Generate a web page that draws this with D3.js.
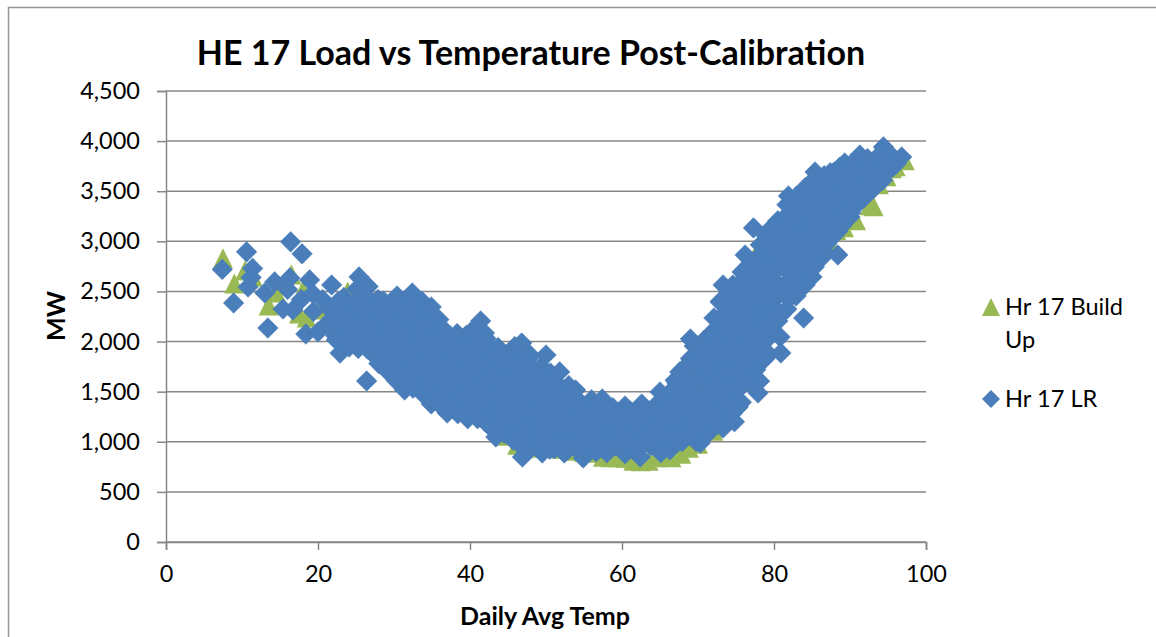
<!DOCTYPE html>
<html>
<head>
<meta charset="utf-8">
<script src="https://cdn.jsdelivr.net/npm/d3@7/dist/d3.min.js"></script>
<style>
html,body{margin:0;padding:0;background:#fff;overflow:hidden}
text{font-family:Lato,"Open Sans",sans-serif;fill:#000}
</style>
</head>
<body>
<svg id="chart" width="1156" height="637"></svg>
<script>
const chartTitle = "HE 17 Load vs Temperature Post-Calibration";
const xAxisTitle = "Daily Avg Temp";
const yAxisTitle = "MW";
const xTicks = [0, 20, 40, 60, 80, 100];
const yTicks = [0, 500, 1000, 1500, 2000, 2500, 3000, 3500, 4000, 4500];
const legendBuildUp = ["Hr 17 Build", "Up"];
const legendLR = ["Hr 17 LR"];

const buildUpPoints = [
[7.5,2820],[9,2570],[10.4,2700],[11.4,2640],[13.5,2350],[14.5,2480],[16.5,2660],[18,2500],[17.5,2270],[18.5,2230],[20.3,2310],[21.5,2260],[23.9,2490],[22.7,2200],[25,2100],[27,2250],
[29,1950],[31,1850],[33,1750],[35,1700],[37,1550],[39,1450],[41,1350],[43,1200],[45,1050],[46.2,960],[47.5,930],[48.6,950],[50.5,1560],[50,960],[52,920],[53.5,900],[55,890],[56.5,880],
[57.5,840],[58.5,835],[59.5,835],[60.5,830],[61.5,800],[62.5,795],[63.5,800],[64.5,835],[65.5,840],[66.5,835],[67.8,870],[68.8,930],[70,970],[72,1100],[74,1300],[76,1600],[78,2000],[78.2,2950],
[80,2300],[82,2600],[84,2800],[85.5,2880],[86.5,3030],[87.2,3000],[88.2,3100],[89.2,3130],[90.8,3200],[92.6,3350],[93.1,3340],[93.8,3560],[94.8,3640],[95.5,3720],[96,3740],[97.2,3800]
];

const lrPoints = [
[7.4,2720],[8.9,2385],[10.6,2895],[11.4,2730],[10.8,2545],[11.2,2640],[13.4,2135],[13,2485],[14.3,2595],[15.4,2325],[16.4,2995],[16.3,2635],[16,2520],[16.7,2315],[17.9,2875],[18.9,2615],[17.8,2420],[19.3,2480],[18.4,2075],[19.4,2300],
[20,2095],[20.6,2420],[21.2,2180],[21.8,2565],[21.6,2320],[22.3,2060],[22.9,1885],[23.1,2240],[23.4,2440],[24.1,1990],[24.3,2120],[24.8,2330],[25.4,2645],[25.3,1930],[25.6,2210],[26,2480],[26.4,1607],[26.5,2050],[26.7,2350],[26.6,2550],
[27.2,1880],[27.5,2160],[27.9,2420],[28,1780],[28.4,2010],[28.7,2280],[29.2,1700],[29.3,1920],[29.5,2130],[29.8,2370],[30.4,2455],[30.3,1610],[30.5,1800],[30.8,2030],[31,2240],[31.4,1517],[31.6,1700],[31.9,1930],[32,2130],[32.4,2485],[32.3,2320],
[33,1570],[33,1800],[33.3,2030],[33.5,2220],[33.7,2400],[34.1,1650],[34.3,1900],[34.5,2110],[34.9,2345],[34.9,1377],[35,1510],[35.3,1760],[35.6,2000],[35.9,2220],[36.2,1420],[36.4,1620],[36.6,1850],[36.9,2080],[37,1287],[37.4,1500],
[37.6,1720],[37.9,1950],[38.3,2080],[38.4,1280],[38.6,1400],[38.9,1600],[39.1,1830],[39.5,2060],[39.7,1230],[40,1480],[40.2,1700],[40.4,1920],[40.7,2140],[41,1230],[41.2,1400],[41.4,2205],[41.5,1600],[41.8,1820],[42.1,2030],[42.4,1170],
[42.6,1320],[42.9,1520],[43.2,1730],[43.4,1048],[43.7,1940],[43.9,1220],[44.2,1420],[44.5,1630],[44.7,1840],[45,1100],[45.3,1310],[45.6,1530],[45.9,1950],[46.2,1000],[46.4,1200],[46.6,1740],[46.8,1985],[46.9,848],[47.1,1430],[47.4,1090],
[47.7,1620],[47.9,1850],[48.2,960],[48.5,1280],[48.8,1500],[49,1720],[49.5,888],[49.6,1130],[49.9,1370],[50,1866],[50.3,1000],[50.6,1590],[50.9,1240],[51.1,930],[51.4,1460],[51.8,1697],[51.9,1100],[52.4,888],[52.6,1330],[53,1560],
[53.3,990],[53.6,1200],[53.9,1517],[54.2,920],[54.4,1360],[54.9,838],[55,1080],[55.3,1260],[55.7,960],[56,1420],[56.2,1140],[56.6,900],[57,1300],[57.4,1427],[57.5,1030],[58,890],[58.3,1170],[58.8,1340],[59.1,960],[59.5,1090],
[60,1240],[60.4,1357],[60.4,880],[60.9,1010],[61.4,1150],[61.8,1290],[62,920],[62.4,848],[62.6,1377],[62.9,1060],[63.3,1210],[63.8,960],[64.2,1320],[64.5,1100],[65,1497],[65.1,890],[65.4,1240],[65.9,1010],[66.3,918],[66.4,1400],
[66.7,1150],[67.2,1590],[67.6,1697],[67.5,1290],[67.9,1000],[68.2,1460],[68.5,1120],[69,2026],[69,1830],[69.3,1600],[69.4,1300],[69.8,1000],[70.3,988],[70.3,1180],[70.5,1450],[70.7,1720],[70.9,1950],[71.4,1090],[71.5,1320],[71.7,1600],
[71.9,1850],[72.2,2100],[72.5,1220],[72.7,1480],[72.9,1730],[72.9,2395],[73.1,1980],[73.3,1138],[73.3,2565],[73.4,2220],[73.8,1350],[74,1620],[74.2,1860],[74.4,2100],[74.5,2350],[74.8,1200],[75,1500],[75.2,1760],[75.3,1347],[75.5,2000],
[75.7,2240],[75.9,2480],[76.2,2864],[76.1,2680],[76.3,1600],[76.6,1880],[76.9,2130],[77.1,2380],[77.3,3134],[77.4,2610],[77.6,1720],[77.9,1487],[78,2000],[78.2,2260],[78.4,2510],[78.6,2780],[78.8,1830],[79,3000],[79.3,2120],[79.5,2400],
[79.8,2680],[80,2900],[80.2,3150],[80.8,2045],[80.9,1886],[80.9,2270],[81.1,2550],[81.4,2800],[81.6,3060],[81.9,3453],[82,3250],[82.2,2450],[82.5,2680],[82.7,2950],[83,3180],[83.2,3380],[83.9,2235],[83.7,2600],[83.9,2830],[84.2,3090],
[84.4,3300],[84.6,3530],[85,2645],[85.2,2950],[85.4,3692],[85.5,3200],[85.7,3430],[86.2,2830],[86.4,3100],[86.6,3330],[86.8,3590],[87,2984],[87.4,3230],[87.6,3470],[87.9,3690],[88.4,2864],[88.4,3100],[88.6,3360],[88.9,3580],[89.3,3782],
[89.4,3220],[89.7,3460],[90,3243],[90.4,3670],[90.6,3360],[91,3540],[91.3,3862],[91.6,3700],[91.9,3440],[92.3,3600],[92.8,3780],[93,3520],[93.6,3690],[94.3,3610],[94.4,3942],[94.7,3800],[95.1,3880],[95.6,3740],[96.8,3842],

[22.4,2015],[22.7,2135],[22.3,2280],[22.6,2395],[24.1,1945],[23.8,2085],[24.2,2205],[23.9,2365],[25.1,2015],[25.4,2130],[25,2275],[25.3,2410],[25.1,2525],
[26.5,1925],[26.2,2070],[26.6,2185],[26.3,2325],[26.5,2440],[27.7,1845],[27.4,1990],[27.8,2105],[27.5,2245],[27.7,2365],[28.9,1775],[28.6,1890],[29,2040],[28.7,2155],[28.9,2295],[28.6,2405],
[30.1,1695],[29.8,1840],[30.2,1955],[29.9,2095],[30.1,2215],[29.8,2355],[31.3,1605],[31,1725],[31.4,1865],[31.1,1985],[31.3,2125],[31,2245],[31.4,2385],[32.5,1535],[32.2,1675],[32.6,1795],[32.3,1935],[32.5,2055],[32.2,2195],[32.6,2315],
[33.7,1485],[33.4,1605],[33.8,1745],[33.5,1865],[33.7,2005],[33.4,2125],[33.8,2265],[33.5,2335],[34.9,1435],[34.6,1555],[35,1695],[34.7,1815],[34.9,1955],[34.6,2075],[35,2215],
[36.1,1365],[35.8,1505],[36.2,1625],[35.9,1765],[36.1,1885],[35.8,2025],[36.2,2145],[37.3,1345],[37,1465],[37.4,1605],[37.1,1725],[37.3,1865],[37,1985],[37.4,2055],
[38.5,1295],[38.2,1435],[38.6,1555],[38.3,1695],[38.5,1815],[38.2,1955],[38.6,2035],[39.7,1265],[39.4,1385],[39.8,1525],[39.5,1645],[39.7,1785],[39.4,1905],[39.8,2045],
[40.9,1245],[40.6,1385],[41,1505],[40.7,1645],[40.9,1765],[40.6,1905],[41,2025],[40.7,2125],[42.1,1195],[41.8,1315],[42.2,1455],[41.9,1575],[42.1,1715],[41.8,1835],[42.2,1975],[41.9,2085],
[43.3,1115],[43,1255],[43.4,1375],[43.1,1515],[43.3,1635],[43,1775],[43.4,1895],[44.5,1085],[44.2,1205],[44.6,1345],[44.3,1465],[44.5,1605],[44.2,1725],[44.6,1865],
[45.7,1015],[45.4,1155],[45.8,1275],[45.5,1415],[45.7,1535],[45.4,1675],[45.8,1795],[46.9,985],[46.6,1105],[47,1245],[46.7,1365],[46.9,1505],[46.6,1625],[47,1765],[46.7,1885],
[48.1,945],[47.8,1085],[48.2,1205],[47.9,1345],[48.1,1465],[47.8,1605],[48.2,1725],[47.9,1865],[49.3,965],[49,1085],[49.4,1225],[49.1,1345],[49.3,1485],[49,1605],[49.4,1745],
[50.5,925],[50.2,1065],[50.6,1185],[50.3,1325],[50.5,1445],[50.2,1585],[50.6,1685],[51.7,955],[51.4,1075],[51.8,1215],[51.5,1335],[51.7,1475],[51.4,1585],
[52.9,925],[52.6,1065],[53,1185],[52.7,1325],[52.9,1445],[52.6,1525],[54.1,955],[53.8,1075],[54.2,1215],[53.9,1335],[54.1,1425],[55.3,925],[55,1065],[55.4,1185],[55.1,1325],[55.3,1365],
[56.5,965],[56.2,1085],[56.6,1225],[56.3,1345],[57.7,945],[57.4,1085],[57.8,1205],[57.5,1345],[58.9,975],[58.6,1095],[59,1235],[58.7,1295],[60.1,955],[59.8,1095],[60.2,1215],[59.9,1305],
[61.3,965],[61,1085],[61.4,1225],[61.1,1305],[62.5,945],[62.2,1085],[62.6,1205],[62.3,1335],[63.7,995],[63.4,1115],[63.8,1255],[63.5,1295],[64.9,1005],[64.6,1125],[65,1265],[64.7,1385],
[66.1,995],[65.8,1135],[66.2,1255],[65.9,1395],[66.1,1475],[67.3,1045],[67,1165],[67.4,1305],[67.1,1425],[67.3,1565],[67,1615],[68.5,1075],[68.2,1215],[68.6,1335],[68.3,1475],[68.5,1595],[68.2,1735],
[69.7,1095],[69.4,1215],[69.8,1355],[69.5,1475],[69.7,1615],[69.4,1735],[69.8,1875],[69.5,1955],[70.9,1105],[70.6,1225],[71,1365],[70.7,1485],[70.9,1625],[70.6,1745],[71,1885],[70.7,2005],
[72.1,1195],[71.8,1315],[72.2,1455],[71.9,1575],[72.1,1715],[71.8,1835],[72.2,1975],[71.9,2095],[72.1,2235],[73.3,1225],[73,1365],[73.4,1485],[73.1,1625],[73.3,1745],[73,1885],[73.4,2005],[73.1,2145],[73.3,2265],[73,2405],
[74.5,1285],[74.2,1405],[74.6,1545],[74.3,1665],[74.5,1805],[74.2,1925],[74.6,2065],[74.3,2185],[74.5,2325],[74.2,2445],[74.6,2565],[75.7,1395],[75.4,1535],[75.8,1655],[75.5,1795],[75.7,1915],[75.4,2055],[75.8,2175],[75.5,2315],[75.7,2435],[75.4,2575],[75.8,2695],
[76.9,1585],[76.6,1705],[77,1845],[76.7,1965],[76.9,2105],[76.6,2225],[77,2365],[76.7,2485],[76.9,2625],[76.6,2745],[78.1,1605],[77.8,1795],[78.2,1935],[77.9,2055],[78.1,2195],[77.8,2315],[78.2,2455],[77.9,2575],[78.1,2715],[77.8,2835],[78.2,2965],
[79.3,1875],[79,2015],[79.4,2135],[79.1,2275],[79.3,2395],[79,2535],[79.4,2655],[79.1,2795],[79.3,2915],[79,3055],[79.4,3115],[80.5,2205],[80.2,2325],[80.6,2465],[80.3,2585],[80.5,2725],[80.2,2845],[80.6,2985],[80.3,3105],[80.5,3205],
[81.7,2325],[81.4,2465],[81.8,2585],[81.5,2725],[81.7,2845],[81.4,2985],[81.8,3105],[81.5,3245],[81.7,3365],[82.9,2455],[82.6,2575],[83,2715],[82.7,2835],[82.9,2975],[82.6,3095],[83,3235],[82.7,3355],[82.9,3445],
[84.1,2565],[83.8,2685],[84.2,2825],[83.9,2945],[84.1,3085],[83.8,3205],[84.2,3345],[83.9,3465],[84.1,3535],[85.3,2745],[85,2885],[85.4,3005],[85.1,3145],[85.3,3265],[85,3405],[85.4,3525],[85.1,3605],
[86.5,2905],[86.2,3025],[86.6,3165],[86.3,3285],[86.5,3425],[86.2,3545],[86.6,3655],[87.7,3045],[87.4,3185],[87.8,3305],[87.5,3445],[87.7,3565],[87.4,3685],[88.9,3155],[88.6,3275],[89,3415],[88.7,3535],[88.9,3675],[88.6,3735],
[90.1,3285],[89.8,3405],[90.2,3545],[89.9,3665],[90.1,3765],[91.3,3395],[91,3535],[91.4,3655],[91.1,3795],[92.5,3485],[92.2,3605],[92.6,3745],[92.3,3825],[93.7,3595],[93.4,3735],[93.8,3855],[94.9,3705],[94.6,3825],[95,3885],[96.1,3775]
];

const width = 1156, height = 637;
const plot = { left: 166, right: 926, top: 91, bottom: 542 };
const gray = "#868686";

const x = d3.scaleLinear().domain([0, 100]).range([plot.left, plot.right]);
const y = d3.scaleLinear().domain([0, 4500]).range([plot.bottom, plot.top]);
const svg = d3.select("#chart");

svg.append("path")
  .attr("d", `M8.5,${height} V7.5 H${width}`)
  .attr("fill", "none").attr("stroke", "#969696").attr("stroke-width", 1.5);

const yAxis = d3.axisLeft(y).tickValues(yTicks).tickFormat(d3.format(",")).tickSize(9).tickPadding(17);
const xAxis = d3.axisBottom(x).tickValues(xTicks).tickSize(8).tickPadding(15);

const gy = svg.append("g").attr("transform", `translate(${plot.left},0)`).call(yAxis);
const gx = svg.append("g").attr("transform", `translate(0,${plot.bottom})`).call(xAxis);
for (const g of [gx, gy]) {
  g.selectAll("path").attr("stroke", gray).attr("stroke-width", 1.5);
  g.selectAll("line").attr("stroke", gray).attr("stroke-width", 1.5);
  g.selectAll("text").style("font-size", "23.5px").style("fill", "#000");
  g.attr("font-family", null).attr("font-size", null);
}
svg.append("g").selectAll("line").data(yTicks).join("line")
  .attr("x1", plot.left).attr("x2", plot.right)
  .attr("y1", d => y(d)).attr("y2", d => y(d))
  .attr("stroke", gray).attr("stroke-width", 1.5);

const triangle = (cx, cy, w) => `M${cx},${cy - w * 0.55}L${cx + w / 2},${cy + w * 0.45}L${cx - w / 2},${cy + w * 0.45}Z`;
const diamond = (cx, cy, r) => `M${cx},${cy - r}L${cx + r},${cy}L${cx},${cy + r}L${cx - r},${cy}Z`;

svg.append("g").selectAll("path").data(buildUpPoints).join("path")
  .attr("d", d => triangle(x(d[0]), y(d[1]), 20))
  .attr("fill", "#98b954");

svg.append("g").selectAll("path").data(lrPoints).join("path")
  .attr("d", d => diamond(x(d[0]), y(d[1]), 10.3))
  .attr("fill", "#4a7ebb").attr("stroke", "#4779b5").attr("stroke-width", 0.5);

svg.append("text").attr("x", 531).attr("y", 65).attr("text-anchor", "middle")
  .style("font-size", "34px").style("font-weight", 700).text(chartTitle);
svg.append("text").attr("x", 545).attr("y", 625).attr("text-anchor", "middle")
  .style("font-size", "25px").style("font-weight", 700).text(xAxisTitle);
svg.append("text").attr("transform", "translate(65,316) rotate(-90)").attr("text-anchor", "middle")
  .style("font-size", "25px").style("font-weight", 700).text(yAxisTitle);

svg.append("path").attr("d", triangle(991, 308, 18)).attr("fill", "#98b954");
svg.append("path").attr("d", diamond(991, 399, 9)).attr("fill", "#4a7ebb");
legendBuildUp.forEach((t, i) => svg.append("text").attr("x", 1005).attr("y", 315 + i * 33).style("font-size", "23.6px").text(t));
legendLR.forEach(t => svg.append("text").attr("x", 1005).attr("y", 407).style("font-size", "23.6px").text(t));
</script>
</body>
</html>
